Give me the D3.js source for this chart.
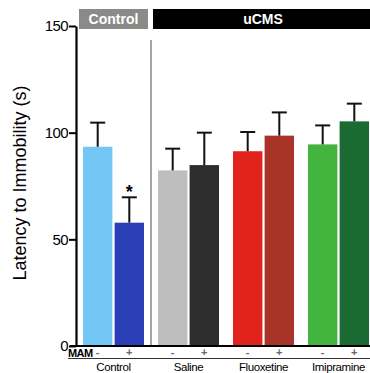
<!DOCTYPE html>
<html>
<head>
<meta charset="utf-8">
<script src="https://cdn.jsdelivr.net/npm/d3@7"></script>
<style>
  body { margin: 0; background: #fff; }
  svg text { font-family: "Liberation Sans", Arial, Helvetica, sans-serif; }
</style>
</head>
<body>
<div id="chart"></div>
<script>
// data
const groups = ['Control', 'Saline', 'Fluoxetine', 'Imipramine'];
const mam = ['-', '+'];
const means = [93.4, 57.8, 82.3, 84.8, 91.3, 98.6, 94.5, 105.3];
const sems = [11.3, 11.9, 10.2, 15.2, 9.0, 10.9, 8.9, 8.3];
const colors = ['#72c7f4', '#2b3fb6', '#bebebe', '#2d2d2d', '#e2231d', '#a83327', '#43b43e', '#1b6a33'];
const yTicks = [0, 50, 100, 150];
const sigBars = [1];

const width = 370;
const height = 373;

const svg = d3.select('#chart')
  .append('svg')
  .attr('width', width)
  .attr('height', height);

const x0 = d3.scaleBand().domain(groups).range([76, 376]);
const x1 = d3.scaleBand().domain(mam).range([7, 68]).paddingInner(0.07);
const y = d3.scaleLinear().domain([0, 150]).range([346, 26]);

const rows = [];
groups.forEach((g, i) => {
  mam.forEach((m, j) => {
    const k = i * 2 + j;
    rows.push({ group: g, mam: m, mean: means[k], sem: sems[k], color: colors[k], idx: k });
  });
});
const bx = d => x0(d.group) + x1(d.mam);

// header boxes
const header = svg.append('g');
header.append('rect')
  .attr('x', 79).attr('y', 9).attr('width', 69).attr('height', 20)
  .attr('fill', '#8a8a8a');
header.append('text')
  .attr('x', 113.5).attr('y', 24)
  .attr('text-anchor', 'middle')
  .attr('fill', '#fff')
  .attr('font-weight', 'bold')
  .attr('font-size', 14)
  .text('Control');
header.append('rect')
  .attr('x', 153).attr('y', 9).attr('width', 217).attr('height', 20)
  .attr('fill', '#000');
header.append('text')
  .attr('x', 263).attr('y', 24)
  .attr('text-anchor', 'middle')
  .attr('fill', '#fff')
  .attr('font-weight', 'bold')
  .attr('font-size', 14)
  .text('uCMS');

// divider between control and uCMS
svg.append('line')
  .attr('x1', 151).attr('x2', 151)
  .attr('y1', 40).attr('y2', y(0))
  .attr('stroke', '#888')
  .attr('stroke-width', 1.5);

// bars
svg.append('g')
  .selectAll('rect')
  .data(rows)
  .enter()
  .append('rect')
  .attr('x', bx)
  .attr('y', d => y(d.mean))
  .attr('width', x1.bandwidth())
  .attr('height', d => y(0) - y(d.mean))
  .attr('fill', d => d.color);

// error bars (upper only)
const err = svg.append('g')
  .attr('stroke', '#111')
  .attr('stroke-width', 2);
err.selectAll('.err-v')
  .data(rows)
  .enter()
  .append('line')
  .attr('class', 'err-v')
  .attr('x1', d => bx(d) + x1.bandwidth() / 2)
  .attr('x2', d => bx(d) + x1.bandwidth() / 2)
  .attr('y1', d => y(d.mean))
  .attr('y2', d => y(d.mean + d.sem));
err.selectAll('.err-cap')
  .data(rows)
  .enter()
  .append('line')
  .attr('class', 'err-cap')
  .attr('x1', d => bx(d) + x1.bandwidth() / 2 - 7.5)
  .attr('x2', d => bx(d) + x1.bandwidth() / 2 + 7.5)
  .attr('y1', d => y(d.mean + d.sem))
  .attr('y2', d => y(d.mean + d.sem));

// significance
svg.append('g')
  .selectAll('text')
  .data(rows.filter(d => sigBars.includes(d.idx)))
  .enter()
  .append('text')
  .attr('x', d => bx(d) + x1.bandwidth() / 2)
  .attr('y', d => y(d.mean + d.sem) + 1)
  .attr('text-anchor', 'middle')
  .attr('font-size', 18)
  .attr('font-weight', 'bold')
  .text('*');

// y axis
const yAxis = svg.append('g')
  .attr('transform', 'translate(76,0)')
  .call(d3.axisLeft(y).tickValues(yTicks).tickSize(7).tickPadding(1).tickSizeOuter(0));
yAxis.select('.domain').attr('stroke', '#000').attr('stroke-width', 2.2);
yAxis.selectAll('.tick line').attr('stroke', '#000').attr('stroke-width', 2);
yAxis.selectAll('.tick text')
  .attr('font-size', 15)
  .attr('fill', '#000')
  .attr('letter-spacing', -0.6)
  .attr('font-family', '"Liberation Sans", Arial, sans-serif');

svg.append('text')
  .attr('transform', 'translate(26,183) rotate(-90)')
  .attr('text-anchor', 'middle')
  .attr('font-size', 18)
  .text('Latency to Immobility (s)');

// baseline
svg.append('line')
  .attr('x1', 70).attr('x2', width)
  .attr('y1', y(0)).attr('y2', y(0))
  .attr('stroke', '#000')
  .attr('stroke-width', 2.2);

// MAM row
svg.append('text')
  .attr('x', 68).attr('y', 357)
  .attr('font-size', 11)
  .attr('font-weight', 'bold')
  .attr('letter-spacing', -0.6)
  .text('MAM');
svg.append('line')
  .attr('x1', 68).attr('x2', width)
  .attr('y1', 358.5).attr('y2', 358.5)
  .attr('stroke', '#333')
  .attr('stroke-width', 1);

svg.append('g')
  .selectAll('text')
  .data(rows)
  .enter()
  .append('text')
  .attr('x', d => bx(d) + x1.bandwidth() / 2)
  .attr('y', 356)
  .attr('text-anchor', 'middle')
  .attr('font-size', 11)
  .attr('font-weight', 'bold')
  .attr('fill', '#666')
  .text(d => d.mam);

// group labels
svg.append('g')
  .selectAll('text')
  .data(groups)
  .enter()
  .append('text')
  .attr('x', d => x0(d) + x0.bandwidth() / 2)
  .attr('y', 371)
  .attr('text-anchor', 'middle')
  .attr('font-size', 11.5)
  .attr('letter-spacing', -0.4)
  .text(d => d);
</script>
</body>
</html>
